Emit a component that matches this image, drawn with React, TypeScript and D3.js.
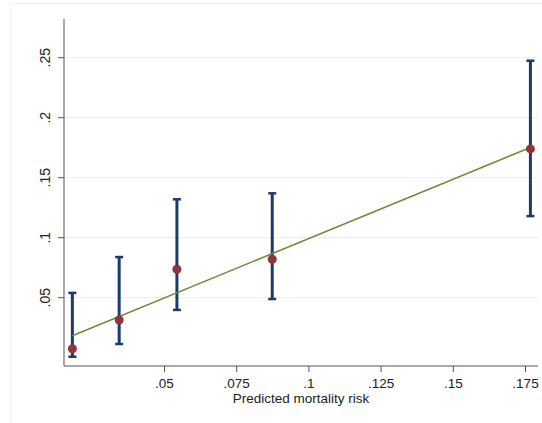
import React from "react";
import * as d3 from "d3";

const xVals = [0.0181, 0.0343, 0.0543, 0.0873, 0.1767];
const yVals = [0.0075, 0.0314, 0.0737, 0.082, 0.174];
const ciLow = [0.0008, 0.0114, 0.0398, 0.0489, 0.118];
const ciHigh = [0.054, 0.0839, 0.132, 0.137, 0.2475];
const fitStart = [0.0181, 0.0183];
const fitEnd = [0.1767, 0.1752];
const xTicks = [0.05, 0.075, 0.1, 0.125, 0.15, 0.175];
const xTickLabels = [".05", ".075", ".1", ".125", ".15", ".175"];
const yTicks = [0.05, 0.1, 0.15, 0.2, 0.25];
const yTickLabels = [".05", ".1", ".15", ".2", ".25"];
const xTitle = "Predicted mortality risk";

export default function App() {
  const W = 542, H = 423;
  const left = 64, right = 538, top = 19, bottom = 366;
  const x = d3.scaleLinear().domain([0.05, 0.175]).range([164.5, 525.5]);
  const y = d3.scaleLinear().domain([0, 0.25]).range([357.7, 57.7]);
  const font = "'Liberation Sans', Arial, Helvetica, sans-serif";
  const line = d3.line<number[]>().x(d => x(d[0])).y(d => y(d[1]));
  return (
    <svg width={W} height={H} style={{ position: "absolute", left: 0, top: 0, background: "#fff" }}>
      <rect x={0} y={0} width={W} height={H} fill="#fff" />
      <rect x={10.5} y={3.5} width={W} height={H} fill="none" stroke="#eef2f5" strokeWidth={1} />
      {yTicks.map((t, i) => (
        <g key={"y" + i}>
          <line x1={left} x2={right} y1={y(t)} y2={y(t)} stroke="#e6eef3" strokeWidth={1} />
          <line x1={left - 6} x2={left} y1={y(t)} y2={y(t)} stroke="#555" strokeWidth={1} />
          <text transform={`translate(50,${y(t)}) rotate(-90)`} textAnchor="middle" fontFamily={font} fontSize={14} fill="#222">
            {yTickLabels[i]}
          </text>
        </g>
      ))}
      {xTicks.map((t, i) => (
        <g key={"x" + i}>
          <line x1={x(t)} x2={x(t)} y1={bottom} y2={bottom + 6} stroke="#555" strokeWidth={1} />
          <text x={x(t)} y={388} textAnchor="middle" fontFamily={font} fontSize={13.5} fill="#222">
            {xTickLabels[i]}
          </text>
        </g>
      ))}
      <line x1={left} x2={left} y1={top} y2={bottom} stroke="#555" strokeWidth={1} />
      <line x1={left} x2={right} y1={bottom} y2={bottom} stroke="#555" strokeWidth={1} />
      <text x={(left + right) / 2} y={403} textAnchor="middle" fontFamily={font} fontSize={13.5} fill="#222">
        {xTitle}
      </text>
      {xVals.map((v, i) => (
        <g key={"e" + i} stroke="#1a3b6c" strokeWidth={3}>
          <line x1={x(v)} x2={x(v)} y1={y(ciLow[i])} y2={y(ciHigh[i])} />
          <line x1={x(v) - 4} x2={x(v) + 4} y1={y(ciLow[i])} y2={y(ciLow[i])} strokeWidth={2.5} />
          <line x1={x(v) - 4} x2={x(v) + 4} y1={y(ciHigh[i])} y2={y(ciHigh[i])} strokeWidth={2.5} />
        </g>
      ))}
      <path d={line([fitStart, fitEnd]) || ""} stroke="#6a8f3a" strokeWidth={1.6} fill="none" />
      {xVals.map((v, i) => (
        <circle key={"p" + i} cx={x(v)} cy={y(yVals[i])} r={4.5} fill="#90353b" />
      ))}
    </svg>
  );
}
